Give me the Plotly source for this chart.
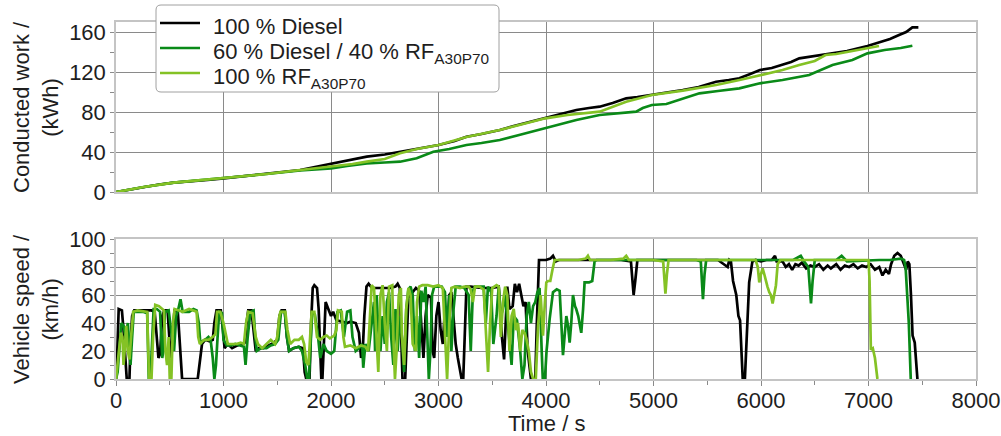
import plotly.graph_objects as go
from plotly.subplots import make_subplots

# ---------------- data ----------------
series_names = ["100 % Diesel",
                "60 % Diesel / 40 % RF<sub>A30P70</sub>",
                "100 % RF<sub>A30P70</sub>"]

# Conducted work (kWh) vs time (s)
work_diesel_t = [0, 150, 258, 400, 537, 700, 850, 1001, 1200, 1400, 1600, 1713, 1850, 2001, 2150, 2333, 2500, 2642,
                 2800, 3001, 3150, 3260, 3400, 3570, 3700, 3850, 3994, 4150, 4282, 4400, 4499, 4620, 4746, 4850, 4985,
                 5100, 5272, 5420, 5582, 5700, 5798, 5900, 5990, 6100, 6201, 6280, 6356, 6500, 6665, 6800, 6990, 7129,
                 7200, 7284, 7350, 7408, 7464]
work_diesel = [0, 3, 5.3, 7.5, 9.3, 10.5, 12, 13.7, 16, 18, 20, 22, 25, 28, 31, 35.3, 37.5, 40.3,
               43, 47, 51, 55.3, 58, 62, 66, 70, 73.7, 78, 82, 84, 85.3, 89, 93.7, 95, 97,
               99, 102, 105, 110.3, 112, 113.7, 118, 122, 124, 127, 130, 133.7, 136, 138.7, 141, 146, 150.3,
               153, 157, 160, 164.7, 164.7]

work_mix_t = [0, 258, 537, 1001, 1400, 1713, 2001, 2150, 2333, 2500, 2642, 2797, 2952, 3100, 3260, 3400, 3570, 3750,
              3994, 4150, 4282, 4499, 4700, 4839, 4900, 4985, 5120, 5272, 5427, 5600, 5798, 5990, 6200, 6448, 6550,
              6665, 6850, 6990, 7150, 7300, 7408]
work_mix = [0, 5, 9.3, 13.7, 18, 21.5, 23.7, 26, 28.7, 29.5, 30.3, 33.7, 40.3, 43, 47, 49, 52, 57,
            63.7, 68, 72, 77, 79, 80.3, 84, 87, 88, 93, 98.7, 101, 103.7, 108.7, 112, 117, 122,
            127, 132, 138.7, 142, 144, 146.3]

work_rf_t = [0, 258, 537, 1001, 1400, 1713, 2001, 2200, 2333, 2500, 2642, 2800, 3001, 3260, 3570, 3800, 3994, 4200,
             4499, 4746, 4985, 5272, 5582, 5800, 5990, 6200, 6356, 6500, 6600, 6700, 6850, 6990, 7098]
work_rf = [0, 5, 9.3, 13.7, 18, 22, 25.3, 28, 30.3, 33, 38.7, 43, 47, 55, 62, 68, 73.7, 77,
           80.3, 90.3, 97, 101.3, 107, 112, 117, 122, 127, 131, 137, 138, 141, 144, 146]

# Vehicle speed (km/h) vs time (s)
speed_diesel_t = [0, 10, 25, 55, 70, 85, 100, 125, 135, 150, 170, 250, 330, 360, 380, 395, 410, 430, 450, 480, 500, 515,
                  530, 545, 575, 595, 615, 760, 780, 800, 830, 870, 900, 915, 935, 975, 995, 1010, 1040, 1080, 1130,
                  1170, 1200, 1215, 1230, 1260, 1280, 1300, 1330, 1370, 1420, 1470, 1500, 1520, 1540, 1570, 1590,
                  1610, 1650, 1700, 1740, 1755, 1770, 1800, 1815, 1830, 1845, 1870, 1885, 1895, 1910, 1920, 1935,
                  1950, 1975, 2000, 2020, 2050, 2100, 2150, 2180, 2230, 2260, 2280, 2295, 2310, 2330, 2350, 2380,
                  2450, 2550, 2600, 2620, 2640, 2655, 2665, 2690, 2705, 2720, 2740, 2760, 2790, 2820, 2840, 2860,
                  2880, 2900, 2930, 2945, 2960, 2980, 3000, 3020, 3040, 3060, 3080, 3100, 3120, 3140, 3160, 3180,
                  3200, 3215, 3230, 3245, 3260, 3300, 3400, 3500, 3560, 3590, 3610, 3625, 3640, 3660, 3690, 3710,
                  3730, 3750, 3770, 3790, 3810, 3830, 3860, 3880, 3900, 3915, 3935, 4000, 4040, 4065, 4090, 4120,
                  4300, 4500, 4700, 4790, 4805, 4815, 4830, 4850, 5000, 5200, 5400, 5600, 5690, 5705, 5720, 5740,
                  5770, 5790, 5805, 5815, 5830, 5850, 5870, 5890, 5920, 5950, 6000, 6050, 6100, 6130, 6145, 6200,
                  6230, 6260, 6290, 6320, 6350, 6380, 6420, 6460, 6500, 6540, 6580, 6620, 6650, 6700, 6740, 6780,
                  6820, 6860, 6900, 6940, 6980, 7020, 7060, 7100, 7130, 7160, 7190, 7210, 7240, 7270, 7300, 7330,
                  7350, 7365, 7380, 7395, 7410, 7430, 7445, 7455]
speed_diesel = [0, 15, 50, 49, 35, 20, 0, 0, 25, 45, 49, 49, 49, 48, 30, 15, 18, 45, 49, 49, 25, 15,
                35, 50, 48, 20, 0, 0, 15, 25, 28, 27, 28, 40, 49, 49, 35, 22, 25, 22, 24,
                25, 26, 40, 49, 49, 35, 20, 22, 22, 24, 26, 28, 45, 49, 49, 30,
                20, 22, 23, 22, 5, 0, 0, 40, 65, 67, 65, 50, 25, 0, 0, 30,
                55, 50, 45, 48, 42, 41, 40, 41, 40, 33, 15, 20, 45, 66, 68, 65,
                65, 65, 66, 68, 65, 20, 0, 0, 30, 58, 60, 62, 65, 63, 40, 15,
                45, 60, 58, 20, 15, 45, 55, 35, 25, 50, 30, 60, 62, 40, 25, 15,
                5, 0, 0, 40, 66, 66, 65, 65, 66, 30, 14, 40, 66, 50, 52, 68,
                62, 68, 60, 52, 55, 20, 0, 0, 0, 40, 85, 85, 86, 88, 84, 85,
                85, 85, 85, 84, 70, 60, 70, 85, 85, 85, 85, 85, 80, 85, 84, 70,
                60, 45, 42, 20, 0, 0, 30, 69, 84, 85, 84, 85, 85, 88, 84, 84,
                80, 82, 78, 82, 81, 83, 79, 81, 80, 82, 78, 81, 79, 82, 78, 81,
                80, 82, 79, 81, 80, 82, 78, 80, 74, 78, 75, 82, 88, 90, 88, 82,
                78, 84, 82, 60, 31, 26, 10, 0]

speed_mix_t = [0, 15, 30, 50, 70, 90, 110, 125, 135, 150, 165, 200, 250, 290, 300, 305, 320, 335, 350, 380, 410, 430,
               440, 455, 490, 520, 540, 560, 580, 600, 620, 680, 720, 750, 770, 785, 800, 830, 860, 880, 900, 915,
               930, 945, 960, 985, 1000, 1030, 1070, 1110, 1150, 1190, 1205, 1225, 1250, 1280, 1295, 1310, 1350,
               1400, 1440, 1480, 1510, 1535, 1570, 1590, 1610, 1650, 1700, 1730, 1760, 1780, 1795, 1810, 1825,
               1850, 1880, 1900, 1930, 1960, 2000, 2030, 2060, 2090, 2120, 2150, 2180, 2200, 2230, 2260, 2290,
               2300, 2320, 2350, 2380, 2400, 2410, 2425, 2440, 2460, 2480, 2500, 2520, 2540, 2560, 2580, 2600,
               2620, 2640, 2660, 2680, 2700, 2720, 2740, 2760, 2780, 2800, 2820, 2840, 2860, 2880, 2900, 2910,
               2925, 2940, 2960, 3000, 3030, 3060, 3080, 3100, 3120, 3140, 3160, 3200, 3240, 3280, 3300, 3320,
               3340, 3380, 3420, 3440, 3460, 3490, 3510, 3540, 3560, 3580, 3600, 3620, 3640, 3660, 3680, 3700,
               3730, 3760, 3780, 3800, 3820, 3840, 3860, 3880, 3900, 3920, 3940, 3960, 3970, 3990, 4005, 4034,
               4065, 4100, 4127, 4158, 4175, 4189, 4205, 4220, 4235, 4251, 4270, 4281, 4300, 4328, 4345, 4359,
               4400, 4430, 4452, 4470, 4600, 4800, 5000, 5200, 5400, 5440, 5450, 5460, 5475, 5490, 5700, 6000,
               6300, 6370, 6400, 6440, 6455, 6465, 6480, 6500, 6700, 6750, 6800, 7000, 7100, 7200, 7300, 7331,
               7345, 7360, 7375, 7393]
speed_mix = [0, 5, 20, 40, 38, 30, 40, 20, 10, 30, 48, 48, 48, 47, 20, 0, 0, 25, 50, 50, 48, 15,
             20, 48, 49, 30, 20, 45, 50, 57, 48, 48, 50, 49, 40, 25, 27, 28, 30, 28, 15, 0,
             10, 30, 48, 47, 28, 24, 24, 25, 24, 23, 10, 30, 48, 49, 30, 20, 22,
             22, 24, 25, 28, 48, 48, 30, 20, 22, 23, 20, 10, 0, 0, 30, 48,
             46, 30, 15, 25, 20, 18, 20, 48, 49, 30, 48, 49, 30, 20, 22, 25,
             8, 25, 20, 40, 55, 20, 60, 35, 20, 45, 25, 55, 62, 30, 10, 50,
             20, 45, 30, 5, 50, 64, 66, 60, 20, 45, 15, 63, 55, 66, 30, 0,
             20, 60, 66, 66, 66, 62, 30, 60, 20, 50, 66, 66, 65, 60, 20, 63,
             66, 66, 66, 40, 66, 62, 25, 45, 66, 45, 50, 60, 44, 30, 10, 45,
             42, 20, 0, 10, 45, 55, 40, 52, 55, 62, 65, 20, 0, 0, 20, 43,
             62, 64, 63, 17, 30, 45, 38, 26, 40, 60, 52, 50, 45, 33, 50, 69,
             69, 70, 84, 85, 85, 85, 85, 85, 85, 84, 70, 57, 75, 85, 85, 85,
             85, 88, 84, 80, 65, 54, 70, 85, 85, 88, 84, 85, 85, 85, 86, 85,
             80, 60, 40, 0]

speed_rf_t = [0, 15, 30, 45, 60, 70, 80, 95, 110, 125, 140, 160, 200, 260, 290, 300, 308, 330, 345, 365, 400, 430,
              445, 460, 475, 490, 500, 515, 530, 545, 580, 620, 680, 720, 750, 765, 780, 820, 860, 900, 925, 940,
              970, 1000, 1040, 1080, 1120, 1160, 1190, 1210, 1230, 1270, 1300, 1320, 1360, 1400, 1440, 1480,
              1500, 1520, 1530, 1575, 1595, 1620, 1660, 1700, 1730, 1750, 1770, 1790, 1805, 1820, 1845, 1870,
              1900, 1930, 1960, 1990, 2030, 2050, 2065, 2100, 2115, 2130, 2180, 2230, 2280, 2320, 2345, 2360, 2378,
              2400, 2420, 2440, 2460, 2480, 2500, 2520, 2540, 2570, 2580, 2595, 2610, 2630, 2650, 2660, 2680,
              2700, 2720, 2740, 2760, 2790, 2800, 2820, 2850, 2900, 2950, 3000, 3040, 3060, 3080, 3100, 3120,
              3150, 3200, 3240, 3280, 3300, 3320, 3340, 3380, 3420, 3440, 3461, 3480, 3500, 3540, 3560, 3580,
              3600, 3620, 3640, 3660, 3680, 3700, 3720, 3740, 3760, 3780, 3800, 3817, 3840, 3860, 3880, 3905,
              3926, 3950, 3972, 3990, 4003, 4019, 4040, 4060, 4080, 4150, 4300, 4370, 4390, 4410, 4600, 4720,
              4746, 4770, 5000, 5090, 5100, 5111, 5125, 5140, 5400, 5700, 5900, 5950, 5970, 5984, 6000, 6015,
              6030, 6046, 6060, 6077, 6092, 6108, 6125, 6139, 6155, 6180, 6400, 6600, 6800, 7000, 7010, 7022,
              7040, 7060, 7083]
speed_rf = [0, 10, 20, 33, 30, 10, 20, 38, 20, 14, 30, 48, 49, 48, 48, 20, 0, 0, 30, 53, 52, 50,
            49, 20, 10, 30, 0, 0, 40, 50, 49, 48, 50, 49, 48, 30, 25, 28, 28, 30, 32, 48,
            48, 40, 25, 25, 25, 26, 25, 40, 48, 47, 30, 25, 22, 25, 28, 25,
            30, 45, 48, 48, 35, 25, 28, 28, 30, 25, 12, 10, 30, 48, 48, 30,
            28, 30, 31, 29, 31, 35, 49, 48, 30, 23, 24, 22, 24, 23, 20, 40, 67,
            65, 30, 5, 60, 67, 40, 20, 66, 67, 30, 0, 20, 60, 65, 30, 10,
            50, 65, 60, 25, 20, 55, 66, 67, 67, 66, 67, 65, 30, 0, 40, 65,
            66, 65, 66, 66, 64, 55, 66, 66, 64, 30, 5, 40, 65, 67, 66, 30,
            55, 66, 60, 20, 45, 50, 35, 40, 20, 35, 33, 29, 20, 5, 0, 0,
            38, 60, 31, 55, 69, 70, 70, 78, 85, 85, 85, 86, 88, 85, 85, 86,
            88, 85, 85, 84, 75, 61, 75, 85, 85, 85, 85, 85, 80, 69, 75, 79,
            75, 69, 66, 62, 60, 54, 62, 67, 82, 85, 85, 85, 85, 85, 70, 21,
            22, 15, 0]

colors = ["#000000", "#0a8a18", "#84c225"]

# ---------------- figure ----------------
W, H = 1001, 436
ML, MR, MT, MB = 116, 25, 22, 57
PW, PH = W - ML - MR, H - MT - MB


def px_x(p):
    return (p - ML) / PW


def px_y(p):
    return (H - MB - p) / PH


fig = make_subplots(rows=2, cols=1, shared_xaxes=False, vertical_spacing=0.05)

work = [(work_diesel_t, work_diesel), (work_mix_t, work_mix), (work_rf_t, work_rf)]
speed = [(speed_diesel_t, speed_diesel), (speed_mix_t, speed_mix), (speed_rf_t, speed_rf)]

for i in range(3):
    fig.add_trace(go.Scatter(x=work[i][0], y=work[i][1], mode="lines", name=series_names[i],
                             line=dict(color=colors[i], width=2.7), showlegend=False), row=1, col=1)
for i in range(3):
    fig.add_trace(go.Scatter(x=speed[i][0], y=speed[i][1], mode="lines", name=series_names[i],
                             line=dict(color=colors[i], width=2.7), showlegend=False), row=2, col=1)

FONT = "Liberation Sans, Arial, sans-serif"
FS = 22
TXT = "#1e1e1e"
GRID = "#8a8a8a"
FRAME = "#c4c4c4"

common_x = dict(range=[0, 8000], dtick=1000, tick0=0, showgrid=True, gridcolor=GRID, gridwidth=1,
                showline=True, mirror=True, linecolor=FRAME, linewidth=1.5, zeroline=False, automargin=False,
                tickfont=dict(family=FONT, size=FS, color=TXT))
fig.update_xaxes(**common_x, showticklabels=False, ticks="", row=1, col=1)
fig.update_xaxes(**common_x, showticklabels=True, ticks="outside", ticklen=5, tickcolor=GRID,
                 ticklabelstandoff=-4,
                 minor=dict(dtick=500, ticks="outside", ticklen=4, tickcolor=GRID, showgrid=False),
                 row=2, col=1)

common_y = dict(showgrid=True, gridcolor=GRID, gridwidth=1, showline=True, mirror=True, linecolor=FRAME,
                linewidth=1.5, zeroline=False, ticks="outside", ticklen=4, tickcolor=GRID, automargin=False,
                tickfont=dict(family=FONT, size=FS, color=TXT))
fig.update_yaxes(**common_y, range=[0, 170], dtick=40, tick0=0,
                 minor=dict(dtick=20, ticks="outside", ticklen=4, tickcolor=GRID, showgrid=False),
                 row=1, col=1)
fig.update_yaxes(**common_y, range=[0, 100], dtick=20, tick0=0,
                 minor=dict(dtick=10, ticks="outside", ticklen=4, tickcolor=GRID, showgrid=False),
                 row=2, col=1)

# ---- manual legend (box, line samples, labels) ----
shapes = []
annotations = []
bx0, bx1, by0, by1, r = 156, 499, 5, 92, 5
x0, x1 = px_x(bx0), px_x(bx1)
y0, y1 = px_y(by1), px_y(by0)
rx, ry = r / PW, r / PH
path = (f"M {x0+rx},{y0} L {x1-rx},{y0} Q {x1},{y0} {x1},{y0+ry} L {x1},{y1-ry} Q {x1},{y1} {x1-rx},{y1} "
        f"L {x0+rx},{y1} Q {x0},{y1} {x0},{y1-ry} L {x0},{y0+ry} Q {x0},{y0} {x0+rx},{y0} Z")
shapes.append(dict(type="path", path=path, xref="paper", yref="paper", fillcolor="white",
                   line=dict(color="#a0a0a0", width=1), layer="above"))
row_y = [23, 48, 73]
for i in range(3):
    shapes.append(dict(type="line", xref="paper", yref="paper", x0=px_x(160), x1=px_x(200),
                       y0=px_y(row_y[i]), y1=px_y(row_y[i]), line=dict(color=colors[i], width=2.5),
                       layer="above"))
    annotations.append(dict(text=series_names[i], x=px_x(211), y=px_y(row_y[i] - 11), xref="paper", yref="paper",
                            showarrow=False, xanchor="left", yanchor="top",
                            font=dict(family=FONT, size=FS, color=TXT)))

annotations += [
    dict(text="Conducted work /<br>(kWh)", x=px_x(36), y=px_y(107), xref="paper", yref="paper",
         textangle=-90, showarrow=False, xanchor="center", yanchor="middle",
         font=dict(family=FONT, size=FS, color=TXT)),
    dict(text="Vehicle speed /<br>(km/h)", x=px_x(36), y=px_y(309), xref="paper", yref="paper",
         textangle=-90, showarrow=False, xanchor="center", yanchor="middle",
         font=dict(family=FONT, size=FS, color=TXT)),
    dict(text="Time / s", x=0.5, y=px_y(423), xref="paper", yref="paper", showarrow=False,
         xanchor="center", yanchor="middle", font=dict(family=FONT, size=FS, color=TXT)),
]

fig.update_layout(
    width=W, height=H, autosize=False,
    margin=dict(l=ML, r=MR, t=MT, b=MB, pad=0, autoexpand=False),
    paper_bgcolor="white", plot_bgcolor="white",
    font=dict(family=FONT, size=FS, color=TXT),
    showlegend=False,
    xaxis=dict(domain=[0, 1]), xaxis2=dict(domain=[0, 1]),
    yaxis=dict(domain=[px_y(192), 1.0]), yaxis2=dict(domain=[0.0, px_y(239)]),
    shapes=shapes,
    annotations=annotations,
)

fig.write_html("out.html", config={"displayModeBar": False},
               post_script="document.body.style.margin='0';document.body.style.overflow='hidden';")
